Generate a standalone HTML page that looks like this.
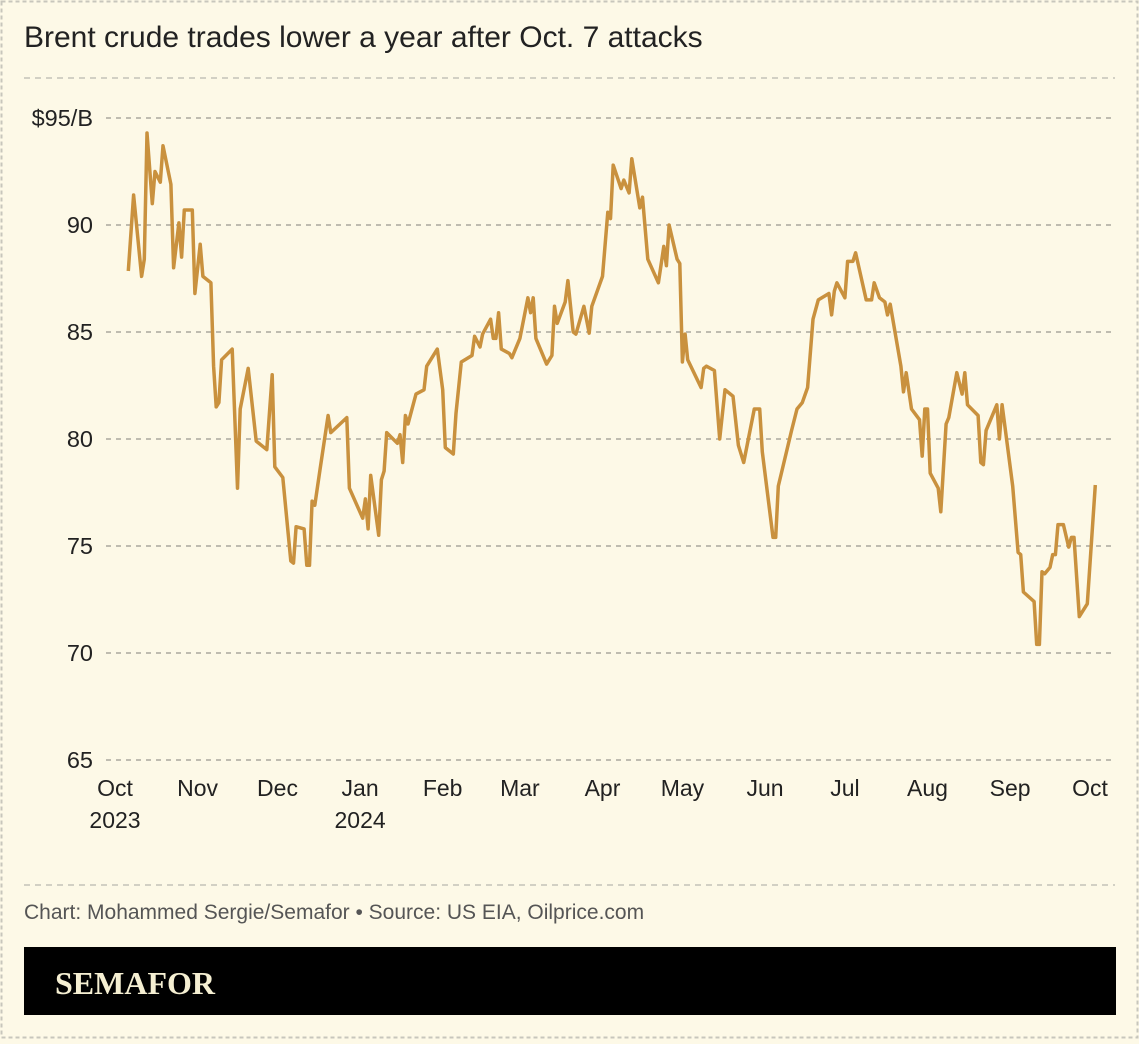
<!DOCTYPE html>
<html><head><meta charset="utf-8"><style>
html,body{margin:0;padding:0;background:#fdf9e7;}
body{width:1139px;height:1039px;overflow:hidden;font-family:"Liberation Sans",sans-serif;}
</style></head><body>
<svg width="1139" height="1039" xmlns="http://www.w3.org/2000/svg">
<rect x="1.5" y="1.5" width="1136" height="1036" fill="#fdf9e7" stroke="#c8c6bc" stroke-width="2" stroke-dasharray="4,3"/>
<text x="24" y="47" font-size="30" fill="#222">Brent crude trades lower a year after Oct. 7 attacks</text>
<line x1="24" y1="78" x2="1115" y2="78" stroke="#c4c2b8" stroke-width="1.5" stroke-dasharray="6,5"/>
<g id="grid"></g>
<g id="ylabels"></g>
<g id="xlabels"></g>
<path id="line" fill="none" stroke="#c9913e" stroke-width="3.5" stroke-linejoin="round"/>
<line x1="24" y1="885" x2="1115" y2="885" stroke="#c4c2b8" stroke-width="1.5" stroke-dasharray="6,5"/>
<text x="24" y="919" font-size="21" fill="#555">Chart: Mohammed Sergie/Semafor • Source: US EIA, Oilprice.com</text>
<rect x="24" y="947" width="1092" height="68" fill="#000"/>
<text x="55" y="994" font-size="32" font-weight="bold" fill="#f5efd2" font-family="Liberation Serif, serif">SEMAFOR</text>
</svg>
<script>
const days=[5,7,10,11,12,14,15,17,18,21,22,24,25,26,29,30,32,33,36,37,38,39,40,44,46,47,50,53,57,59,60,63,66,67,68,71,72,73,74,75,77,80,81,87,88,93,94,95,96,99,100,101,102,106,107,108,109,110,113,116,117,121,123,124,127,128,130,134,135,137,138,141,142,143,144,145,148,149,152,155,156,157,158,162,164,165,166,169,170,172,173,176,178,179,183,185,186,187,190,191,193,194,197,198,200,204,206,207,208,211,212,213,214,215,220,221,222,225,227,229,232,234,236,240,242,243,247,248,249,254,256,258,260,262,264,268,269,270,271,274,275,277,278,282,284,285,287,289,290,291,295,296,297,299,302,303,304,305,306,309,310,312,313,316,318,319,320,324,325,326,327,331,332,333,337,339,340,341,345,346,347,348,349,351,352,353,354,356,358,359,360,362,365,368];
const prices=[87.85,91.4,87.6,88.4,94.3,91.0,92.5,92.0,93.7,91.9,88.0,90.1,88.5,90.7,90.7,86.8,89.1,87.6,87.3,83.4,81.5,81.7,83.7,84.2,77.7,81.4,83.3,79.9,79.5,83.0,78.7,78.2,74.3,74.2,75.9,75.8,74.1,74.1,77.1,76.9,78.6,81.1,80.3,81.0,77.7,76.3,77.2,75.8,78.3,75.5,78.1,78.5,80.3,79.8,80.2,78.9,81.1,80.7,82.1,82.3,83.4,84.2,82.3,79.6,79.3,81.2,83.6,83.9,84.8,84.3,84.9,85.6,84.7,84.7,85.9,84.2,84.0,83.8,84.7,86.6,85.9,86.6,84.7,83.5,83.9,86.2,85.4,86.4,87.4,85.0,84.9,86.2,84.95,86.2,87.6,90.6,90.3,92.8,91.7,92.1,91.5,93.1,90.8,91.3,88.4,87.3,89.0,88.1,90.0,88.4,88.2,83.6,84.9,83.7,82.4,83.3,83.4,83.2,80.0,82.3,82.0,79.7,78.9,81.4,81.4,79.4,75.4,75.4,77.8,80.4,81.4,81.7,82.4,85.6,86.5,86.8,85.8,86.9,87.3,86.6,88.3,88.3,88.7,86.5,86.5,87.3,86.6,86.4,85.8,86.3,83.4,82.2,83.1,81.4,80.9,79.2,81.4,81.4,78.4,77.7,76.6,80.7,81.0,83.1,82.1,83.1,81.6,81.1,78.9,78.8,80.4,81.6,80.0,81.6,77.8,74.7,74.6,72.85,72.4,70.4,70.4,73.8,73.7,74.0,74.6,74.6,76.0,76.0,74.95,75.4,75.4,71.7,72.3,77.85];
const yTicks=[95,90,85,80,75,70,65];
const yTickLabels=["$95/B","90","85","80","75","70","65"];
const monthDays=[0,31,61,92,123,152,183,213,244,274,305,336,366];
const monthLabels=["Oct","Nov","Dec","Jan","Feb","Mar","Apr","May","Jun","Jul","Aug","Sep","Oct"];
const yearLabels=["2023","","","2024","","","","","","","","",""];
const NS="http://www.w3.org/2000/svg";
const x=d=>115+d*(975/366);
const y=v=>118+(95-v)*21.4;
const grid=document.getElementById('grid'),yl=document.getElementById('ylabels'),xl=document.getElementById('xlabels');
yTicks.forEach((v,i)=>{
 const l=document.createElementNS(NS,'line');
 l.setAttribute('x1',106);l.setAttribute('x2',1115);l.setAttribute('y1',y(v));l.setAttribute('y2',y(v));
 l.setAttribute('stroke','#9a9890');l.setAttribute('stroke-width','1.3');l.setAttribute('stroke-dasharray','5,5');
 
 
 grid.appendChild(l);
 const t=document.createElementNS(NS,'text');
 t.setAttribute('x',93);t.setAttribute('y',y(v)+8);t.setAttribute('text-anchor','end');
 t.setAttribute('font-size','23.5');t.setAttribute('fill','#222');t.textContent=yTickLabels[i];
 
 
 yl.appendChild(t);
});
monthDays.forEach((d,i)=>{
 const t=document.createElementNS(NS,'text');
 t.setAttribute('x',x(d));t.setAttribute('y',796);t.setAttribute('text-anchor','middle');
 t.setAttribute('font-size','23');t.setAttribute('fill','#222');t.textContent=monthLabels[i];
 
 
 xl.appendChild(t);
 if(yearLabels[i]){
  const t2=document.createElementNS(NS,'text');
  t2.setAttribute('x',x(d));t2.setAttribute('y',828);t2.setAttribute('text-anchor','middle');
  t2.setAttribute('font-size','23');t2.setAttribute('fill','#222');t2.textContent=yearLabels[i];
  
  
  xl.appendChild(t2);
 }
});
document.getElementById('line').setAttribute('d',days.map((d,i)=>(i?'L':'M')+x(d).toFixed(1)+','+y(prices[i]).toFixed(1)).join(''));
</script>
</body></html>
